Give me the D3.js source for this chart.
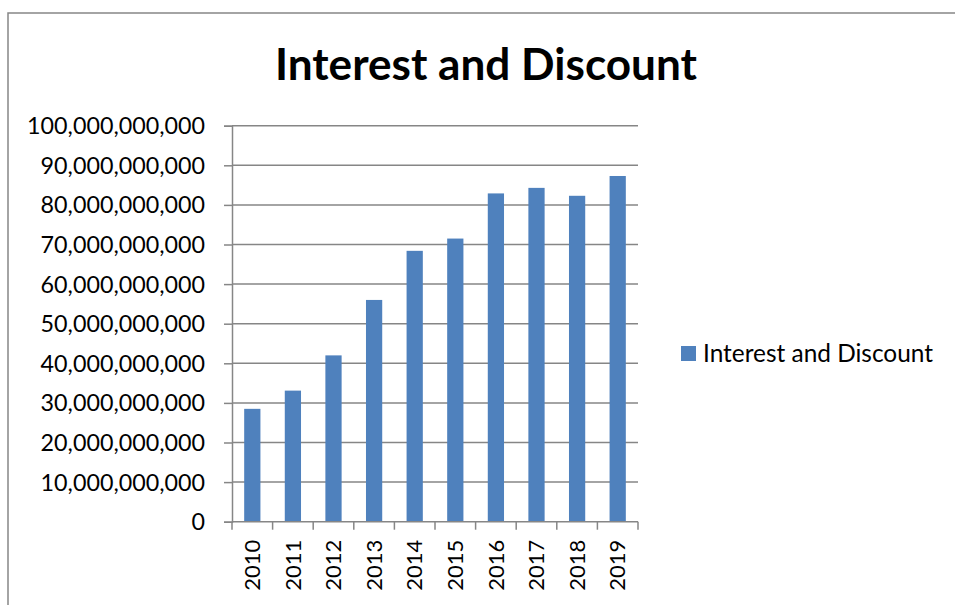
<!DOCTYPE html>
<html>
<head>
<meta charset="utf-8">
<script src="https://cdn.jsdelivr.net/npm/d3@7"></script>
<style>
  html, body { margin: 0; padding: 0; background: #fff; }
  svg { display: block; }
  text { font-family: Lato, "Open Sans", sans-serif; fill: #000; }
</style>
</head>
<body>
<svg id="chart" width="955" height="605"></svg>
<script>
// Annual interest and discount totals
const years = ["2010", "2011", "2012", "2013", "2014", "2015", "2016", "2017", "2018", "2019"];
const interestAndDiscount = [28.5e9, 33.1e9, 42.0e9, 56.0e9, 68.4e9, 71.5e9, 82.9e9, 84.3e9, 82.3e9, 87.3e9];
const yTicks = [0, 10e9, 20e9, 30e9, 40e9, 50e9, 60e9, 70e9, 80e9, 90e9, 100e9];
const seriesName = "Interest and Discount";
const chartTitle = "Interest and Discount";

const svg = d3.select("#chart");
const axisColor = "#868686";
const barColor = "#4F81BD";

// Fit a text element's font size so it spans the given width
function fitWidth(sel, width) {
  sel.each(function () {
    const node = this;
    const fs = parseFloat(node.getAttribute("font-size"));
    const w = node.getComputedTextLength();
    if (w > 0) node.setAttribute("font-size", (fs * width / w).toFixed(2));
  });
}

// Chart frame
svg.append("path")
  .attr("d", "M8,605 L8,13 L955,13")
  .attr("fill", "none")
  .attr("stroke", axisColor)
  .attr("stroke-width", 1.5);

// Plot area
const plot = { left: 232, right: 638, top: 125.7, bottom: 521.7 };

const x = d3.scaleBand()
  .domain(years)
  .range([plot.left, plot.right])
  .paddingInner(0.6)
  .paddingOuter(0.3);

const y = d3.scaleLinear()
  .domain([0, 100e9])
  .range([plot.bottom, plot.top]);

// Horizontal gridlines
svg.append("g")
  .selectAll("line")
  .data(yTicks.filter(d => d > 0))
  .join("line")
  .attr("x1", plot.left)
  .attr("x2", plot.right)
  .attr("y1", d => y(d))
  .attr("y2", d => y(d))
  .attr("stroke", axisColor)
  .attr("stroke-width", 1.5);

// Bars
svg.append("g")
  .selectAll("rect")
  .data(years.map((yr, i) => ({ yr, v: interestAndDiscount[i] })))
  .join("rect")
  .attr("x", d => x(d.yr))
  .attr("width", x.bandwidth())
  .attr("y", d => y(d.v))
  .attr("height", d => y(0) - y(d.v))
  .attr("fill", barColor);

// Y axis
const yAxis = svg.append("g")
  .attr("transform", `translate(${plot.left},0)`)
  .call(d3.axisLeft(y)
    .tickValues(yTicks)
    .tickSize(8)
    .tickPadding(19)
    .tickFormat(d3.format(",")));
yAxis.select(".domain").attr("stroke", axisColor).attr("stroke-width", 1.5);
yAxis.selectAll(".tick line").attr("stroke", axisColor).attr("stroke-width", 1.5);
yAxis.selectAll(".tick text")
  .attr("font-size", 24)
  .attr("font-family", "Lato, 'Open Sans', sans-serif")
  .attr("fill", "#000")
  .attr("dy", "0.34em");
const longestY = yAxis.selectAll(".tick text").filter(d => d === 100e9);
// size all labels from the widest one
{
  const node = longestY.node();
  const w = node.getComputedTextLength();
  const fs = 24 * 178 / w;
  yAxis.selectAll(".tick text").attr("font-size", fs.toFixed(2));
}

// X axis: line along zero with ticks between categories
const xAxisG = svg.append("g");
xAxisG.append("line")
  .attr("x1", plot.left).attr("x2", plot.right)
  .attr("y1", plot.bottom).attr("y2", plot.bottom)
  .attr("stroke", axisColor).attr("stroke-width", 1.5);
const step = x.step();
const boundaries = d3.range(years.length + 1).map(i => plot.left + i * (plot.right - plot.left) / years.length);
xAxisG.selectAll("line.tk")
  .data(boundaries)
  .join("line")
  .attr("class", "tk")
  .attr("x1", d => d).attr("x2", d => d)
  .attr("y1", plot.bottom).attr("y2", plot.bottom + 8)
  .attr("stroke", axisColor).attr("stroke-width", 1.5);

const xLabels = xAxisG.selectAll("text")
  .data(years)
  .join("text")
  .attr("font-size", 24)
  .attr("text-anchor", "end")
  .attr("dy", "0.35em")
  .attr("transform", d => `translate(${x(d) + x.bandwidth() / 2},${plot.bottom + 18}) rotate(-90)`)
  .text(d => d);
fitWidth(xLabels.filter((d, i) => i === 0), 51);
xLabels.attr("font-size", xLabels.filter((d, i) => i === 0).attr("font-size"));

// Title
const title = svg.append("text")
  .attr("x", 486)
  .attr("y", 80)
  .attr("text-anchor", "middle")
  .attr("font-size", 40)
  .attr("font-weight", "bold")
  .text(chartTitle);
fitWidth(title, 422);

// Legend
const legend = svg.append("g").attr("transform", "translate(681,346)");
legend.append("rect")
  .attr("width", 15).attr("height", 15)
  .attr("fill", barColor);
const legendText = legend.append("text")
  .attr("x", 22)
  .attr("y", 7.5)
  .attr("dy", "0.35em")
  .attr("font-size", 22)
  .text(seriesName);
fitWidth(legendText, 230);
</script>
</body>
</html>
